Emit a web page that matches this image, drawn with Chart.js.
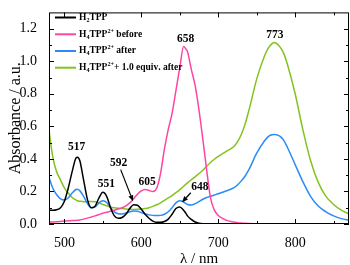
<!DOCTYPE html>
<html>
<head>
<meta charset="utf-8">
<script src="https://cdn.jsdelivr.net/npm/chart.js@4"></script>
<style>
  html, body { margin: 0; padding: 0; background: #fff; }
  canvas { display: block; }
</style>
</head>
<body>
<canvas id="absChart" width="350" height="265"></canvas>
<script>
// wavelength grid (nm)
const wavelengths = [480, 485, 490, 495, 500, 505, 510, 515, 517, 520,
  525, 530, 535, 540, 545, 550, 555, 560, 565, 570,
  575, 580, 585, 590, 595, 600, 605, 610, 615, 620,
  625, 630, 635, 640, 645, 650, 655, 658, 660, 665,
  670, 675, 680, 685, 690, 695, 700,
  710, 720, 725, 730, 735, 740, 750, 760, 765, 770, 773, 775,
  780, 785, 790, 800, 810, 820, 830, 840, 850, 860, 870];

const h2tpp = [0.085, 0.085, 0.088, 0.10, 0.14, 0.22, 0.32, 0.405, 0.41, 0.39,
  0.27, 0.15, 0.10, 0.11, 0.16, 0.195, 0.17, 0.10, 0.05, 0.035,
  0.04, 0.06, 0.095, 0.118, 0.115, 0.09, 0.06, 0.035, 0.018, 0.01,
  0.01, 0.015, 0.03, 0.06, 0.095, 0.105, 0.085, 0.065, 0.05, 0.028,
  0.012, 0.005, 0.002, 0.001, 0, 0, 0,
  0, 0, 0, 0, 0, 0, 0, 0, 0, 0, 0, 0,
  0, 0, 0, 0, 0, 0, 0, 0, 0, 0, 0];

const h4tppBefore = [0.013, 0.013, 0.014, 0.016, 0.018, 0.02, 0.021, 0.022, 0.023, 0.025,
  0.03, 0.036, 0.043, 0.05, 0.058, 0.066, 0.072, 0.078, 0.085, 0.092,
  0.10, 0.112, 0.13, 0.155, 0.183, 0.203, 0.212, 0.206, 0.20, 0.22,
  0.31, 0.46, 0.58, 0.68, 0.82, 0.96, 1.09, 1.075, 1.06, 0.95,
  0.85, 0.70, 0.52, 0.33, 0.16, 0.085, 0.052,
  0.024, 0.012, 0.008, 0.006, 0.004, 0.003, 0.002, 0.001, 0, 0, 0, 0,
  0, 0, 0, 0, 0, 0, 0, 0, 0, 0, 0];

const h4tppAfter = [0.285, 0.22, 0.18, 0.155, 0.148, 0.16, 0.19, 0.212, 0.214, 0.205,
  0.17, 0.125, 0.10, 0.105, 0.13, 0.143, 0.132, 0.10, 0.075, 0.063,
  0.062, 0.067, 0.075, 0.08, 0.078, 0.07, 0.062, 0.056, 0.053, 0.052,
  0.053, 0.06, 0.075, 0.10, 0.13, 0.143, 0.135, 0.125, 0.12, 0.117,
  0.125, 0.138, 0.152, 0.163, 0.17, 0.178, 0.186,
  0.203, 0.222, 0.24, 0.265, 0.295, 0.335, 0.435, 0.51, 0.537, 0.548, 0.55, 0.549,
  0.54, 0.515, 0.47, 0.365, 0.26, 0.17, 0.11, 0.075, 0.05, 0.033, 0.023];

const h4tppEquivAfter = [0.575, 0.41, 0.32, 0.27, 0.222, 0.19, 0.163, 0.148, 0.143, 0.14,
  0.137, 0.137, 0.138, 0.137, 0.13, 0.12, 0.112, 0.105, 0.10, 0.097,
  0.095, 0.092, 0.09, 0.089, 0.09, 0.092, 0.095, 0.10, 0.108, 0.118,
  0.13, 0.145, 0.16, 0.175, 0.193, 0.21, 0.232, 0.245, 0.253, 0.272,
  0.29, 0.31, 0.33, 0.355, 0.378, 0.398, 0.415,
  0.445, 0.475, 0.505, 0.55, 0.615, 0.70, 0.89, 1.03, 1.08, 1.108, 1.115, 1.112,
  1.09, 1.05, 0.98, 0.80, 0.58, 0.39, 0.256, 0.17, 0.12, 0.085, 0.062];

const seriesLabels = ['H₂TPP', 'H₄TPP²⁺ before', 'H₄TPP²⁺ after', 'H₄TPP²⁺+ 1.0 equiv. after'];
const seriesColors = ['#000000', '#ff45a2', '#2a8cf5', '#84c21e'];

const xMajorTicks = [500, 600, 700, 800];
const xMinorTicks = [550, 650, 750, 850];
const yMajorTicks = [0, 0.2, 0.4, 0.6, 0.8, 1.0, 1.2];
const yMinorTicks = [0.1, 0.3, 0.5, 0.7, 0.9, 1.1];

// peak labels [text, wavelength, absorbance]
const peakLabels = [
  ['517', 516, 0.47],
  ['551', 554.5, 0.246],
  ['592', 570.5, 0.372],
  ['605', 607.5, 0.256],
  ['658', 657.5, 1.138],
  ['773', 773.5, 1.163],
  ['648', 676, 0.227]
];
// arrows [fromX, fromY, toX, toY] in data units
const peakArrows = [
  [573.2, 0.334, 589.2, 0.14],
  [664.3, 0.192, 653, 0.134]
];

const SERIF = '"Liberation Serif", "DejaVu Serif", serif';

const subChars = { '₂': '2', '₄': '4' };
const supChars = { '²': '2', '⁺': '+' };

function drawRich(ctx, str, x, y, size) {
  let cx = x;
  for (const ch of str) {
    let s = size, dy = 0, c = ch;
    if (subChars[ch]) { c = subChars[ch]; s = size * 0.65; dy = size * 0.3; }
    else if (supChars[ch]) { c = supChars[ch]; s = size * 0.65; dy = -size * 0.35; }
    ctx.font = 'bold ' + s + 'px ' + SERIF;
    ctx.fillText(c, cx, y + dy);
    cx += ctx.measureText(c).width;
  }
}

const frameTicks = {
  id: 'frameTicks',
  afterDatasetsDraw(chart) {
    const { ctx, chartArea: a, scales: { x, y } } = chart;
    ctx.save();
    ctx.strokeStyle = '#000';
    ctx.lineWidth = 1;
    ctx.strokeRect(a.left + 0.5, a.top + 0.5, a.right - a.left - 1, a.bottom - a.top - 1);
    ctx.beginPath();
    const xt = xMajorTicks.map(v => [v, 5]).concat(xMinorTicks.map(v => [v, 3]));
    xt.forEach(([v, len]) => {
      const px = Math.round(x.getPixelForValue(v)) + 0.5;
      ctx.moveTo(px, a.bottom); ctx.lineTo(px, a.bottom - len);
      ctx.moveTo(px, a.top); ctx.lineTo(px, a.top + len);
    });
    const yt = yMajorTicks.map(v => [v, 5]).concat(yMinorTicks.map(v => [v, 3]));
    yt.forEach(([v, len]) => {
      const py = Math.round(y.getPixelForValue(v)) + 0.5;
      ctx.moveTo(a.left, py); ctx.lineTo(a.left + len, py);
      ctx.moveTo(a.right, py); ctx.lineTo(a.right - len, py);
    });
    ctx.stroke();
    ctx.restore();
  },
  afterDraw(chart) {
    const { ctx, scales: { x, y } } = chart;
    ctx.save();
    // legend
    const rows = [17.5, 34.3, 51, 67.7];
    ctx.textBaseline = 'middle';
    ctx.textAlign = 'left';
    chart.data.datasets.forEach((ds, i) => {
      ctx.strokeStyle = ds.borderColor;
      ctx.lineWidth = 2;
      ctx.beginPath();
      ctx.moveTo(55, rows[i]); ctx.lineTo(76, rows[i]);
      ctx.stroke();
      ctx.fillStyle = '#000';
      drawRich(ctx, ds.label, 79, rows[i], 9.5);
    });
    // peak labels
    ctx.font = 'bold 11.5px ' + SERIF;
    ctx.textAlign = 'center';
    ctx.fillStyle = '#000';
    peakLabels.forEach(([t, lx, ly]) => {
      ctx.fillText(t, x.getPixelForValue(lx), y.getPixelForValue(ly));
    });
    // arrows
    ctx.strokeStyle = '#000';
    ctx.lineWidth = 1.2;
    peakArrows.forEach(([x0, y0, x1, y1]) => {
      const p0 = [x.getPixelForValue(x0), y.getPixelForValue(y0)];
      const p1 = [x.getPixelForValue(x1), y.getPixelForValue(y1)];
      const ang = Math.atan2(p1[1] - p0[1], p1[0] - p0[0]);
      const head = 6, wing = 2.5;
      const bx = p1[0] - head * Math.cos(ang), by = p1[1] - head * Math.sin(ang);
      ctx.beginPath();
      ctx.moveTo(p0[0], p0[1]); ctx.lineTo(bx, by);
      ctx.stroke();
      ctx.beginPath();
      ctx.moveTo(p1[0], p1[1]);
      ctx.lineTo(bx + wing * Math.sin(ang), by - wing * Math.cos(ang));
      ctx.lineTo(bx - wing * Math.sin(ang), by + wing * Math.cos(ang));
      ctx.closePath();
      ctx.fill();
    });
    ctx.restore();
  }
};

const seriesValues = [h2tpp, h4tppBefore, h4tppAfter, h4tppEquivAfter];

const datasets = seriesValues.map((vals, i) => ({
  label: seriesLabels[i],
  data: wavelengths.map((w, j) => ({ x: w, y: vals[j] })),
  borderColor: seriesColors[i],
  borderWidth: 1.5,
  pointRadius: 0,
  cubicInterpolationMode: 'monotone',
  fill: false
}));

new Chart(document.getElementById('absChart'), {
  type: 'line',
  data: { datasets: datasets },
  options: {
    responsive: false,
    animation: false,
    events: [],
    layout: { padding: { top: 1, right: 1, left: 0, bottom: 0 } },
    plugins: {
      legend: { display: false },
      tooltip: { enabled: false }
    },
    scales: {
      x: {
        type: 'linear',
        min: 480,
        max: 870,
        afterBuildTicks: s => { s.ticks = xMajorTicks.map(v => ({ value: v })); },
        afterFit: s => { s.height = 41; },
        grid: { display: false },
        border: { display: false },
        ticks: {
          color: '#000',
          padding: 3,
          maxRotation: 0,
          font: { family: SERIF, size: 14 },
          callback: v => String(v)
        },
        title: {
          display: true,
          text: 'λ / nm',
          color: '#000',
          padding: { top: 0, bottom: -3 },
          font: { family: SERIF, size: 15 }
        }
      },
      y: {
        min: 0,
        max: 1.3,
        afterBuildTicks: s => { s.ticks = yMajorTicks.map(v => ({ value: v })); },
        afterFit: s => { s.width = 49; },
        grid: { display: false },
        border: { display: false },
        ticks: {
          color: '#000',
          padding: 4,
          font: { family: SERIF, size: 14 },
          callback: v => v.toFixed(1)
        },
        title: {
          display: true,
          text: 'Absorbance / a.u.',
          color: '#000',
          padding: { top: 6, bottom: 0 },
          font: { family: SERIF, size: 16 }
        }
      }
    }
  },
  plugins: [frameTicks]
});
</script>
</body>
</html>
